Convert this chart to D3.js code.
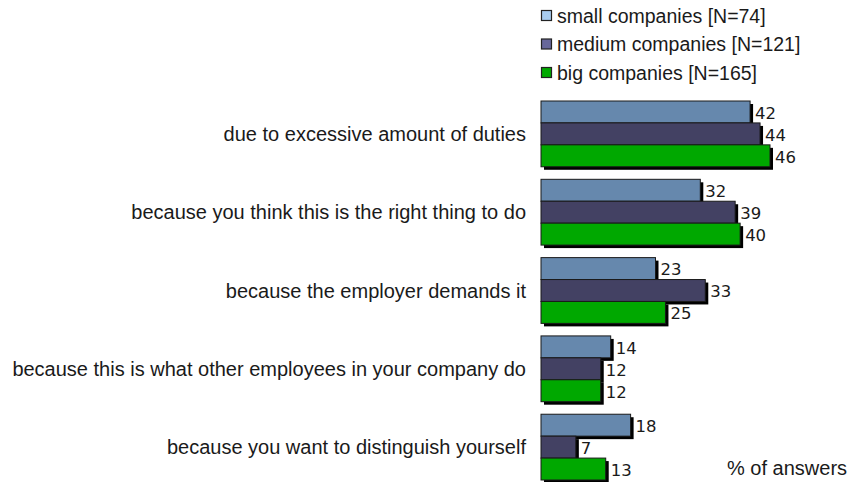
<!DOCTYPE html>
<html>
<head>
<meta charset="utf-8">
<script src="https://cdn.jsdelivr.net/npm/d3@7"></script>
<style>
  body { margin: 0; background: #fff; }
  svg { display: block; }
</style>
</head>
<body>
<svg width="850" height="482"></svg>
<script>
// data
const categories = [
  "due to excessive amount of duties",
  "because you think this is the right thing to do",
  "because the employer demands it",
  "because this is what other employees in your company do",
  "because you want to distinguish yourself"
];
const seriesNames = ["small companies [N=74]", "medium companies [N=121]", "big companies [N=165]"];
const small = [42, 32, 23, 14, 18];
const medium = [44, 39, 33, 12, 7];
const big = [46, 40, 25, 12, 13];

const barColors = ["#6688ad", "#434163", "#00a800"];
const legendColors = ["#a9cdf0", "#67679a", "#00aa00"];
const sansFont = "'Liberation Sans', Arial, sans-serif";

let svg = d3.select("svg");

let x = d3.scaleLinear().domain([0, 46]).range([541, 770]);
let y = d3.scaleBand().domain(categories).range([101, 480]).paddingInner(0.16);
let yi = d3.scaleBand().domain([0, 1, 2]).range([0, y.bandwidth()]);

let rows = [];
categories.forEach((c, i) => {
  [small, medium, big].forEach((s, j) => {
    rows.push({ cat: c, s: j, v: s[i] });
  });
});

// shadows first
svg.append("g").selectAll("rect")
  .data(rows)
  .join("rect")
  .attr("x", x(0) + 3)
  .attr("y", d => y(d.cat) + yi(d.s) + 3)
  .attr("width", d => x(d.v) - x(0))
  .attr("height", yi.bandwidth())
  .attr("fill", "#000");

// bars
svg.append("g").selectAll("rect")
  .data(rows)
  .join("rect")
  .attr("x", x(0))
  .attr("y", d => y(d.cat) + yi(d.s))
  .attr("width", d => x(d.v) - x(0))
  .attr("height", yi.bandwidth())
  .attr("fill", d => barColors[d.s])
  .attr("stroke", "#1a1a1a")
  .attr("stroke-width", 1);

// value labels
svg.append("g").selectAll("text")
  .data(rows)
  .join("text")
  .attr("x", d => x(d.v) + 5)
  .attr("y", d => y(d.cat) + yi(d.s) + yi.bandwidth() / 2 + 1)
  .attr("dy", "0.35em")
  .attr("font-family", "'DejaVu Sans', Verdana, sans-serif")
  .attr("font-size", 16.5)
  .attr("fill", "#1a1a1a")
  .text(d => d.v);

// category labels
svg.append("g").selectAll("text")
  .data(categories)
  .join("text")
  .attr("x", 526)
  .attr("y", d => y(d) + y.bandwidth() / 2)
  .attr("dy", "0.35em")
  .attr("text-anchor", "end")
  .attr("font-family", sansFont)
  .attr("font-size", 20)
  .attr("fill", "#1a1a1a")
  .text(d => d);

// legend
let leg = svg.append("g").selectAll("g")
  .data(seriesNames)
  .join("g")
  .attr("transform", (d, i) => `translate(541, ${16 + i * 28.5})`);
leg.append("rect")
  .attr("x", 0.5).attr("y", -5.5)
  .attr("width", 10).attr("height", 10)
  .attr("fill", (d, i) => legendColors[i])
  .attr("stroke", "#222")
  .attr("stroke-width", 1.2);
leg.append("text")
  .attr("x", 16)
  .attr("dy", "0.35em")
  .attr("font-family", sansFont)
  .attr("font-size", 19.5)
  .attr("fill", "#1a1a1a")
  .text(d => d);

svg.append("text")
  .attr("x", 727)
  .attr("y", 475)
  .attr("font-family", sansFont)
  .attr("font-size", 20)
  .attr("fill", "#1a1a1a")
  .text("% of answers");
</script>
</body>
</html>
